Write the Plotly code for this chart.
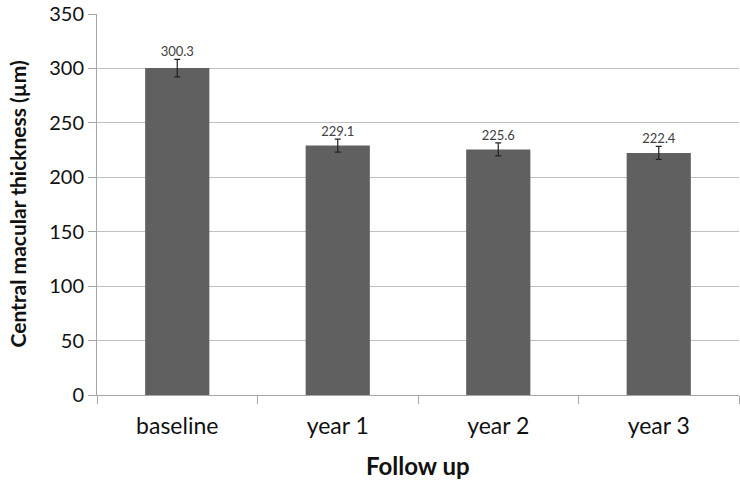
import plotly.graph_objects as go

categories = ["baseline", "year 1", "year 2", "year 3"]
thickness = [300.3, 229.1, 225.6, 222.4]
errors = [8, 6, 6, 6]
labels = ["300.3", "229.1", "225.6", "222.4"]

font_family = "Lato, 'Open Sans', sans-serif"

fig = go.Figure()
fig.add_trace(go.Bar(
    x=categories,
    y=thickness,
    width=0.4,
    marker=dict(color="#606060", line=dict(width=0)),
    error_y=dict(type="data", array=errors, visible=True, color="#222222", thickness=1.2, width=3),
    hoverinfo="y",
))
fig.add_trace(go.Scatter(
    x=categories,
    y=[v + e for v, e in zip(thickness, errors)],
    mode="text",
    text=labels,
    textposition="top center",
    textfont=dict(size=13, color="#404040", family=font_family),
    hoverinfo="skip",
))

fig.update_layout(
    width=740,
    height=482,
    margin=dict(l=97, r=1, t=14, b=87),
    paper_bgcolor="white",
    plot_bgcolor="white",
    showlegend=False,
    font=dict(family=font_family, color="#111111"),
)
fig.update_xaxes(
    automargin=False,
    tickfont=dict(size=23),
    ticklabelstandoff=10,
    showline=True, linecolor="#a6a6a6", linewidth=1,
    ticks="outside", tickson="boundaries", ticklen=8, tickcolor="#a6a6a6",
    showgrid=False,
)
fig.update_yaxes(
    automargin=False,
    tickfont=dict(size=20),
    ticklabeloverflow="allow",
    range=[0, 350],
    dtick=50,
    showgrid=True, gridcolor="#bfbfbf", gridwidth=1,
    showline=True, linecolor="#a6a6a6",
    zeroline=False,
    ticks="outside", ticklen=8, tickcolor="#a6a6a6",
)

fig.add_annotation(
    text="<b>Central macular thickness (µm)</b>", textangle=-90,
    xref="paper", yref="paper", x=0, y=0.5, xshift=-80,
    xanchor="center", yanchor="middle", showarrow=False,
    font=dict(size=21),
)
fig.add_annotation(
    text="<b>Follow up</b>",
    xref="paper", yref="paper", x=0.5, y=0, yshift=-70,
    xanchor="center", yanchor="middle", showarrow=False,
    font=dict(size=24),
)

# drop the browser's default 8px body margin so the figure sits at the page corner
fig.write_html(
    "out.html",
    config={"displayModeBar": False},
    post_script="document.body.style.margin='0';",
)
